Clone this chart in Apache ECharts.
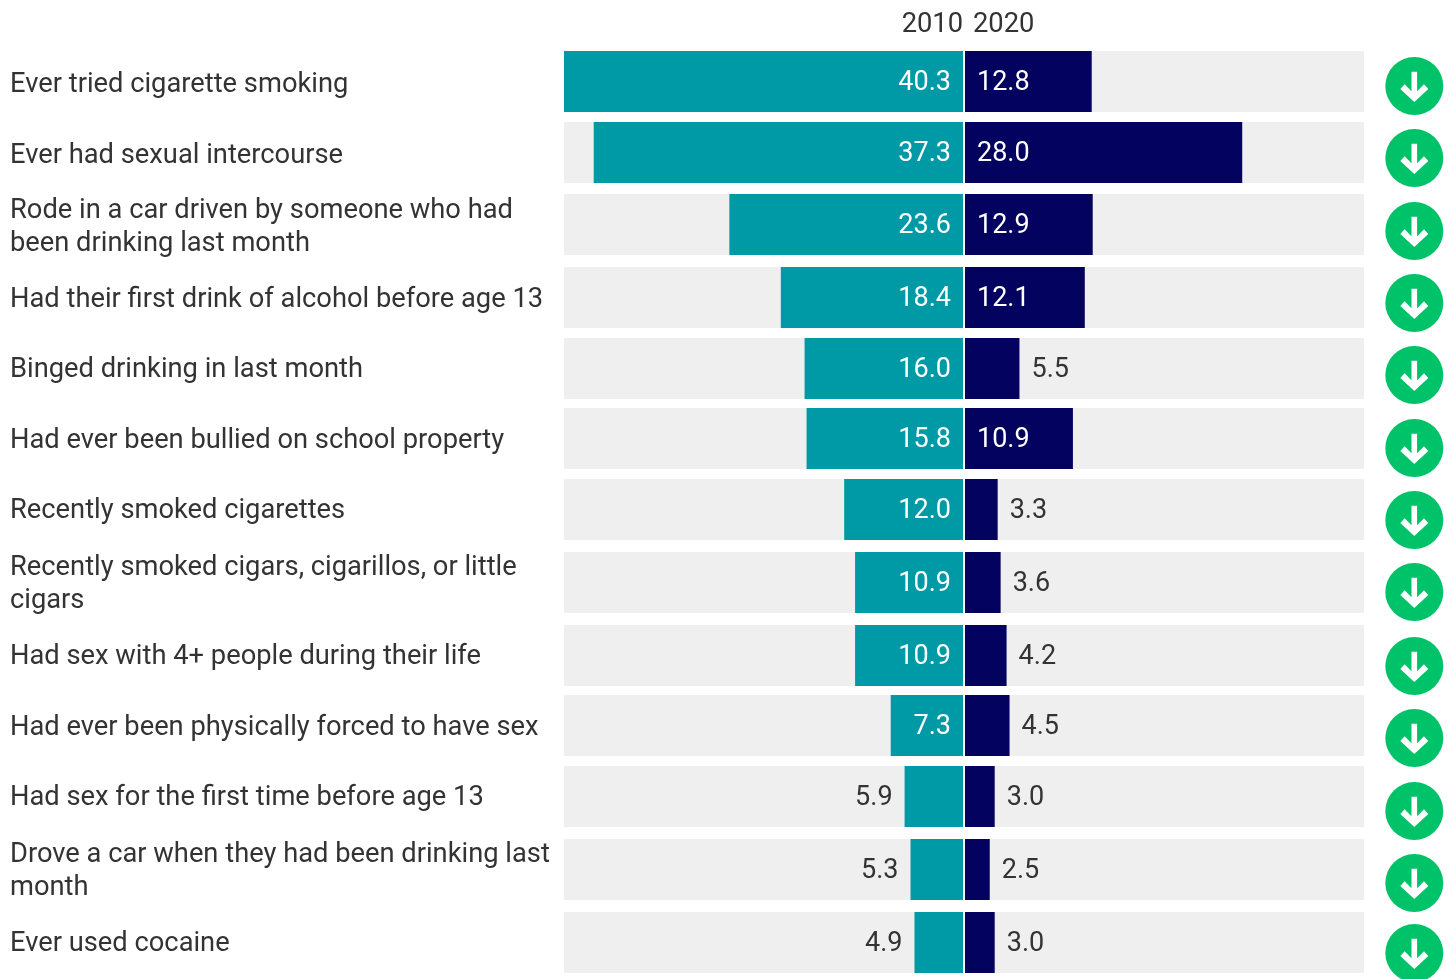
<!DOCTYPE html>
<html>
<head>
<meta charset="utf-8">
<title>Youth risk behaviors, 2010 and 2020</title>
<script src="https://cdn.jsdelivr.net/npm/echarts@6/dist/echarts.min.js"></script>
<style>
  html, body { margin: 0; padding: 0; background: #fff; }
  #chart { width: 1452px; height: 979px; }
</style>
</head>
<body>
<div id="chart"></div>
<script>
// Chart data
const years = ['2010', '2020'];
const behaviors = [
  'Ever tried cigarette smoking',
  'Ever had sexual intercourse',
  'Rode in a car driven by someone who had\nbeen drinking last month',
  'Had their first drink of alcohol before age 13',
  'Binged drinking in last month',
  'Had ever been bullied on school property',
  'Recently smoked cigarettes',
  'Recently smoked cigars, cigarillos, or little\ncigars',
  'Had sex with 4+ people during their life',
  'Had ever been physically forced to have sex',
  'Had sex for the first time before age 13',
  'Drove a car when they had been drinking last\nmonth',
  'Ever used cocaine'
];
const values2010 = [40.3, 37.3, 23.6, 18.4, 16.0, 15.8, 12.0, 10.9, 10.9, 7.3, 5.9, 5.3, 4.9];
const values2020 = [12.8, 28.0, 12.9, 12.1, 5.5, 10.9, 3.3, 3.6, 4.2, 4.5, 3.0, 2.5, 3.0];

// Layout: rows are taller where a label wraps, so each row gets its own grids
const rowTops = [51, 122, 194, 267, 338, 408, 479, 552, 625, 695, 766, 839, 912];
const iconTops = [57, 129, 202, 274, 346, 419, 491, 563, 637, 709, 782, 854, 927];
const labelShifts = [4, 4, 3, 3, 2, 3, 2, 2, 2, 3, 2, 2, 2];
const rowHeight = 61;
const axisMax = 40.3;
const labelPlot = { left: 10, width: 544 };
const leftPlot = { left: 564, width: 399 };
const rightPlot = { left: 965, width: 399 };
const iconPlot = { left: 1385.3, width: 58 };

const fontFamily = 'Roboto, sans-serif';
const teal = '#009aa6';
const navy = '#03035f';
const green = '#00c268';
const trackGrey = '#efefef';
const textColor = '#333333';
const arrowPath = 'path://M-2.8,-14.3 L2.8,-14.3 L2.8,5.2 L9.7,-1.7 L14,3 L0,16 L-14,3 L-9.7,-1.7 L-2.8,5.2 Z';

function valueLabel(value, insideMin, insidePos, outsidePos) {
  const inside = value >= insideMin;
  return {
    show: true,
    position: inside ? insidePos : outsidePos,
    distance: 12,
    offset: [0, 2],
    color: inside ? '#ffffff' : textColor,
    fontFamily,
    fontSize: 27,
    formatter: (p) => p.value.toFixed(1)
  };
}

const grid = [], xAxis = [], yAxis = [], series = [];

behaviors.forEach((name, i) => {
  const base = grid.length;
  grid.push(
    { ...leftPlot, top: rowTops[i], height: rowHeight },
    { ...rightPlot, top: rowTops[i], height: rowHeight },
    { ...iconPlot, top: iconTops[i], height: 58 },
    { ...labelPlot, top: rowTops[i] + labelShifts[i], height: rowHeight }
  );
  xAxis.push(
    { gridIndex: base, type: 'value', min: 0, max: axisMax, inverse: true, show: false },
    { gridIndex: base + 1, type: 'value', min: 0, max: axisMax, show: false },
    { gridIndex: base + 2, type: 'value', min: -1, max: 1, show: false },
    { gridIndex: base + 3, type: 'value', min: 0, max: 1, show: false }
  );
  yAxis.push(
    { gridIndex: base, type: 'category', data: [name], show: false },
    { gridIndex: base + 1, type: 'category', data: [name], show: false },
    { gridIndex: base + 2, type: 'category', data: [name], show: false },
    {
      gridIndex: base + 3, type: 'category', data: [name],
      axisLine: { show: false }, axisTick: { show: false },
      axisLabel: {
        show: true, align: 'left', margin: 0, color: textColor,
        fontFamily, fontSize: 27.3, lineHeight: 33, interval: 0
      }
    }
  );
  const bar = {
    type: 'bar', barWidth: '100%', silent: true, showBackground: true,
    backgroundStyle: { color: trackGrey }
  };
  series.push(
    {
      ...bar, name: years[0], xAxisIndex: base, yAxisIndex: base,
      itemStyle: { color: teal },
      label: valueLabel(values2010[i], 7, 'insideRight', 'left'),
      data: [values2010[i]]
    },
    {
      ...bar, name: years[1], xAxisIndex: base + 1, yAxisIndex: base + 1,
      itemStyle: { color: navy },
      label: valueLabel(values2020[i], 10, 'insideLeft', 'right'),
      data: [values2020[i]]
    },
    // Change marker: green disc with a white downward arrow
    {
      type: 'scatter', xAxisIndex: base + 2, yAxisIndex: base + 2, silent: true,
      symbol: 'circle', symbolSize: 58, itemStyle: { color: green, opacity: 1 },
      data: [[0, name]], clip: false
    },
    {
      type: 'scatter', xAxisIndex: base + 2, yAxisIndex: base + 2, silent: true,
      symbol: arrowPath, symbolSize: [28, 30.3], symbolOffset: [0, 0.85],
      itemStyle: { color: '#ffffff', opacity: 1 },
      data: [[0, name]], clip: false, z: 3
    }
  );
});

const chart = echarts.init(document.getElementById('chart'), null, { renderer: 'canvas' });
chart.setOption({
  animation: false,
  backgroundColor: '#ffffff',
  title: [
    {
      text: years[0], left: 958, top: 7, textAlign: 'right',
      textStyle: { color: textColor, fontFamily, fontSize: 27.3, fontWeight: 'normal' }
    },
    {
      text: years[1], left: 968, top: 7, textAlign: 'left',
      textStyle: { color: textColor, fontFamily, fontSize: 27.3, fontWeight: 'normal' }
    }
  ],
  grid, xAxis, yAxis, series
});
</script>
</body>
</html>
